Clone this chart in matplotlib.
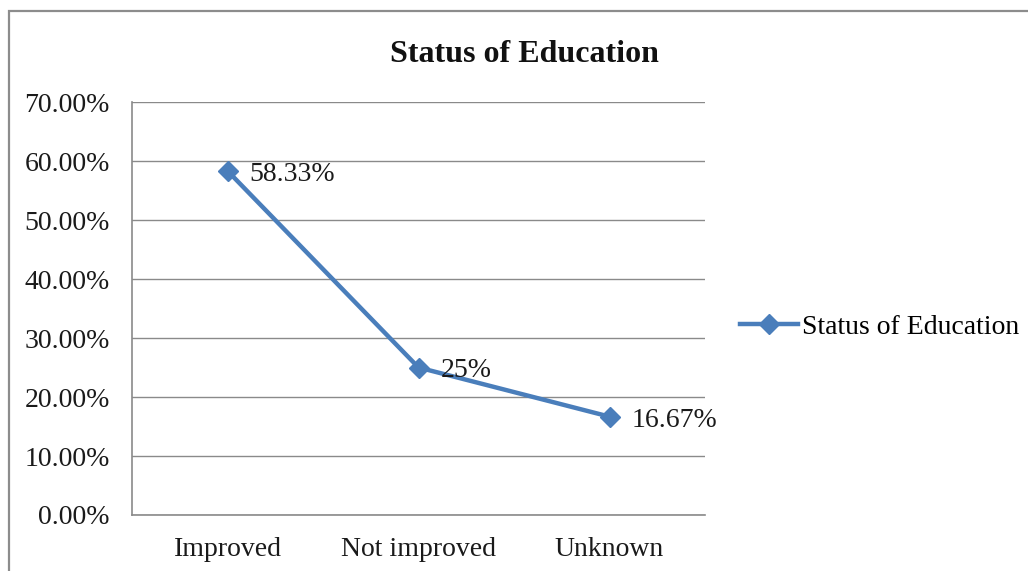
import matplotlib
matplotlib.use("Agg")
import matplotlib.pyplot as plt
from matplotlib.patches import Rectangle
from matplotlib.ticker import FuncFormatter

categories = ["Improved", "Not improved", "Unknown"]
values = [58.33, 25.0, 16.67]
value_labels = ["58.33%", "25%", "16.67%"]
series_name = "Status of Education"
title = "Status of Education"
y_ticks = [0, 10, 20, 30, 40, 50, 60, 70]

plt.rcParams["font.family"] = ["Liberation Serif", "DejaVu Serif"]

W, H = 1028, 571
fig = plt.figure(figsize=(W / 100, H / 100), dpi=100)
fig.patch.set_facecolor("white")

# chart-area frame
fig.add_artist(Rectangle((9 / W, -0.05), 1.2, 1 - 11 / H + 0.05,
                         transform=fig.transFigure, fill=False,
                         edgecolor="#8c8c8c", linewidth=1.6))

ax = fig.add_axes([132 / W, 1 - 515 / H, (705 - 132) / W, (515 - 102) / H])

line_color = "#4A7EBB"
x = list(range(len(categories)))
ax.plot(x, values, color=line_color, linewidth=3.2, marker="D",
        markersize=10, markerfacecolor=line_color,
        markeredgecolor=line_color, label=series_name, zorder=3)

for xi, v, lab in zip(x, values, value_labels):
    ax.annotate(lab, (xi, v), xytext=(16, -2.5), textcoords="offset points",
                ha="left", va="center", fontsize=20, color="#1a1a1a")

ax.set_xlim(-0.5, len(categories) - 0.5)
ax.set_ylim(0, 70)
ax.set_yticks(y_ticks)
ax.yaxis.set_major_formatter(FuncFormatter(lambda v, p: f"{v:.2f}%"))
ax.set_xticks(x)
ax.set_xticklabels(categories)

ax.grid(axis="y", color="#8a8a8a", linewidth=1.0)
ax.set_axisbelow(True)
for s in ("top", "right"):
    ax.spines[s].set_visible(False)
for s in ("left", "bottom"):
    ax.spines[s].set_color("#8a8a8a")
    ax.spines[s].set_linewidth(1.2)

ax.tick_params(axis="y", length=0, pad=16, labelsize=20, labelcolor="#1a1a1a")
ax.tick_params(axis="x", length=0, pad=16, labelsize=20, labelcolor="#1a1a1a")

fig.text(524 / W, 1 - 54 / H, title, ha="center", va="center",
         fontsize=23, fontweight="bold", color="#111111")

fig.legend(loc="center left", bbox_to_anchor=(740 / W, 1 - 327 / H),
           frameon=False, fontsize=20, handlelength=2.1, handletextpad=0.15,
           borderpad=0, borderaxespad=0)

fig.savefig("out.png", dpi=100, facecolor="white")
